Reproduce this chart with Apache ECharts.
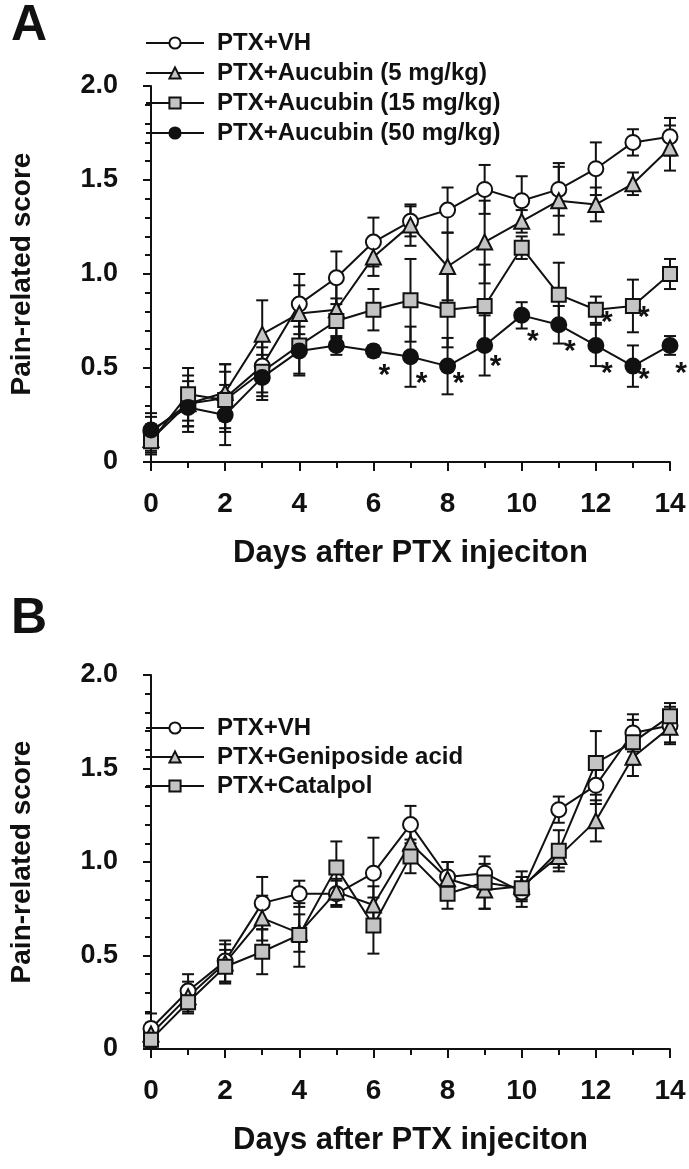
<!DOCTYPE html>
<html>
<head>
<meta charset="utf-8">
<script src="https://cdn.jsdelivr.net/npm/echarts@6/dist/echarts.min.js"></script>
<style>
html,body{margin:0;padding:0;background:#fff;}
#chart{width:689px;height:1169px;}
</style>
</head>
<body>
<div id="chart"></div>
<script>
// ---- Data ----
const days = [0,1,2,3,4,5,6,7,8,9,10,11,12,13,14];
const xTickLabels = ['0','2','4','6','8','10','12','14'];

// Panel A
const vhA      = [0.16,0.31,0.34,0.51,0.84,0.98,1.17,1.28,1.34,1.45,1.39,1.45,1.56,1.70,1.73];
const vhAErr   = [0.10,0.15,0.18,0.14,0.16,0.14,0.13,0.08,0.12,0.13,0.13,0.14,0.14,0.07,0.10];
const auc5     = [0.12,0.31,0.37,0.68,0.79,0.81,1.09,1.26,1.04,1.17,1.28,1.39,1.37,1.48,1.67];
const auc5Err  = [0.08,0.12,0.15,0.18,0.15,0.15,0.10,0.11,0.18,0.22,0.06,0.18,0.09,0.06,0.12];
const auc15    = [0.11,0.36,0.33,0.48,0.62,0.75,0.81,0.86,0.81,0.83,1.14,0.89,0.81,0.83,1.00];
const auc15Err = [0.06,0.14,0.15,0.13,0.15,0.12,0.11,0.22,0.20,0.22,0.06,0.17,0.07,0.14,0.08];
const auc50    = [0.17,0.29,0.25,0.45,0.59,0.62,0.59,0.56,0.51,0.62,0.78,0.73,0.62,0.51,0.62];
const auc50Err = [0.07,0.10,0.16,0.12,0.13,0.05,0.03,0.16,0.15,0.16,0.07,0.10,0.11,0.11,0.05];
// significance stars [day, score position]
const starsA = [[6,0.48],[7,0.44],[8,0.44],[9,0.53],[10,0.66],[11,0.61],[12,0.49],[13,0.46],[14,0.49],[12,0.76],[13,0.79]];

// Panel B
const vhB     = [0.11,0.31,0.47,0.78,0.83,0.83,0.94,1.20,0.92,0.94,0.84,1.28,1.41,1.69,1.73];
const vhBErr  = [0.08,0.09,0.11,0.14,0.07,0.07,0.19,0.10,0.08,0.05,0.08,0.07,0.10,0.10,0.10];
const gaB     = [0.08,0.28,0.46,0.70,0.62,0.84,0.77,1.10,0.91,0.85,0.87,1.03,1.22,1.56,1.72];
const gaBErr  = [0.06,0.08,0.10,0.12,0.10,0.07,0.10,0.10,0.09,0.10,0.08,0.06,0.11,0.10,0.08];
const catB    = [0.05,0.25,0.44,0.52,0.61,0.97,0.66,1.03,0.83,0.89,0.86,1.06,1.53,1.64,1.78];
const catBErr = [0.04,0.06,0.09,0.12,0.17,0.14,0.15,0.09,0.08,0.14,0.06,0.11,0.17,0.12,0.07];

const namesA = ['PTX+VH','PTX+Aucubin (5 mg/kg)','PTX+Aucubin (15 mg/kg)','PTX+Aucubin (50 mg/kg)'];
const namesB = ['PTX+VH','PTX+Geniposide acid','PTX+Catalpol'];

// ---- Helpers ----
const FONT = '"Liberation Sans", Arial, Helvetica, sans-serif';
const GRAY = '#c4c4c4';
const styles = {
  openCircle: {symbol:'circle', color:'#ffffff'},
  triangle:   {symbol:'triangle', color:GRAY},
  square:     {symbol:'rect', color:GRAY},
  filled:     {symbol:'circle', color:'#111111'}
};

function lineSeries(name, values, st, gi){
  return {
    type:'line', name:name, xAxisIndex:gi, yAxisIndex:gi,
    data: days.map((d,i)=>[d, values[i]]),
    symbol: st.symbol, symbolSize: st.symbol==='triangle'?15:(st.symbol==='rect'?14:15),
    lineStyle:{color:'#111', width:2},
    itemStyle:{color:st.color, borderColor:'#111', borderWidth:2},
    emphasis:{disabled:true}, animation:false, z:3
  };
}
function errSeries(name, values, errs, gi){
  return {
    type:'custom', name:name+' err', xAxisIndex:gi, yAxisIndex:gi,
    data: days.map((d,i)=>[d, values[i]-errs[i], values[i]+errs[i]]),
    renderItem: function(params, api){
      const x = api.value(0);
      const lo = api.coord([x, api.value(1)]);
      const hi = api.coord([x, api.value(2)]);
      const hw = 6;
      const st = {stroke:'#111', lineWidth:2, fill:null};
      return {type:'group', children:[
        {type:'line', shape:{x1:lo[0],y1:lo[1],x2:hi[0],y2:hi[1]}, style:st},
        {type:'line', shape:{x1:lo[0]-hw,y1:lo[1],x2:lo[0]+hw,y2:lo[1]}, style:st},
        {type:'line', shape:{x1:hi[0]-hw,y1:hi[1],x2:hi[0]+hw,y2:hi[1]}, style:st}
      ]};
    },
    animation:false, silent:true, z:3
  };
}
function starSeries(stars, gi){
  return {
    type:'custom', name:'stars', xAxisIndex:gi, yAxisIndex:gi,
    data: stars,
    renderItem: function(params, api){
      const p = api.coord([api.value(0), api.value(1)]);
      return {type:'text', x:p[0]+11, y:p[1]+4, style:{text:'*', font:'bold 30px '+FONT, fill:'#111', align:'center', verticalAlign:'middle'}};
    },
    animation:false, silent:true, z:4
  };
}
function xAxisCfg(gi){
  return {
    type:'value', gridIndex:gi, min:0, max:14, interval:2,
    name:'Days after PTX injeciton', nameLocation:'middle', nameGap:76,
    nameTextStyle:{fontFamily:FONT, fontWeight:'bold', fontSize:31, color:'#111'},
    axisLine:{show:true, lineStyle:{color:'#111', width:2}},
    axisTick:{show:true, length:9, lineStyle:{color:'#111', width:2}},
    minorTick:{show:true, splitNumber:2, length:6, lineStyle:{color:'#111', width:2}},
    axisLabel:{margin:28, fontFamily:FONT, fontWeight:'bold', fontSize:28, color:'#111',
      formatter:function(v){ return xTickLabels[v/2]; }},
    splitLine:{show:false}
  };
}
function yAxisCfg(gi){
  return {
    type:'value', gridIndex:gi, min:0, max:2, interval:0.5, offset:23,
    name:'Pain-related score', nameLocation:'middle', nameGap:92,
    nameTextStyle:{fontFamily:FONT, fontWeight:'bold', fontSize:28, color:'#111'},
    axisLine:{show:true, lineStyle:{color:'#111', width:2}},
    axisTick:{show:true, length:8, lineStyle:{color:'#111', width:2}},
    minorTick:{show:true, splitNumber:5, length:6, lineStyle:{color:'#111', width:2}},
    axisLabel:{margin:10, fontFamily:FONT, fontWeight:'bold', fontSize:27, color:'#111',
      formatter:function(v){ return v===0 ? '0' : v.toFixed(1); }},
    splitLine:{show:false}
  };
}
function legendCfg(names, top, gap){
  return {
    data:names, orient:'vertical', left:140, top:top, itemWidth:58, itemHeight:14, itemGap:gap,
    selectedMode:false,
    textStyle:{fontFamily:FONT, fontWeight:'bold', fontSize:24, color:'#111', padding:[0,0,0,8]}
  };
}

const chart = echarts.init(document.getElementById('chart'), null, {renderer:'canvas'});
const option = {
  backgroundColor:'#ffffff',
  animation:false,
  title:[
    {text:'A', left:6, top:-4, textStyle:{fontFamily:FONT, fontWeight:'bold', fontSize:50, color:'#111'}},
    {text:'B', left:6, top:589, textStyle:{fontFamily:FONT, fontWeight:'bold', fontSize:50, color:'#111'}}
  ],
  grid:[
    {left:150, right:19, top:86, height:376},
    {left:150, right:19, top:675, height:374}
  ],
  xAxis:[xAxisCfg(0), xAxisCfg(1)],
  yAxis:[yAxisCfg(0), yAxisCfg(1)],
  legend:[legendCfg(namesA, 26, 6), legendCfg(namesB, 711, 5)],
  series:[
    errSeries(namesA[0], vhA, vhAErr, 0),
    lineSeries(namesA[0], vhA, styles.openCircle, 0),
    errSeries(namesA[1], auc5, auc5Err, 0),
    lineSeries(namesA[1], auc5, styles.triangle, 0),
    errSeries(namesA[2], auc15, auc15Err, 0),
    lineSeries(namesA[2], auc15, styles.square, 0),
    errSeries(namesA[3], auc50, auc50Err, 0),
    lineSeries(namesA[3], auc50, styles.filled, 0),
    starSeries(starsA, 0),
    errSeries(namesB[0]+' B', vhB, vhBErr, 1),
    lineSeries(namesB[0], vhB, styles.openCircle, 1),
    errSeries(namesB[1], gaB, gaBErr, 1),
    lineSeries(namesB[1], gaB, styles.triangle, 1),
    errSeries(namesB[2], catB, catBErr, 1),
    lineSeries(namesB[2], catB, styles.square, 1)
  ]
};
chart.setOption(option);
</script>
</body>
</html>
